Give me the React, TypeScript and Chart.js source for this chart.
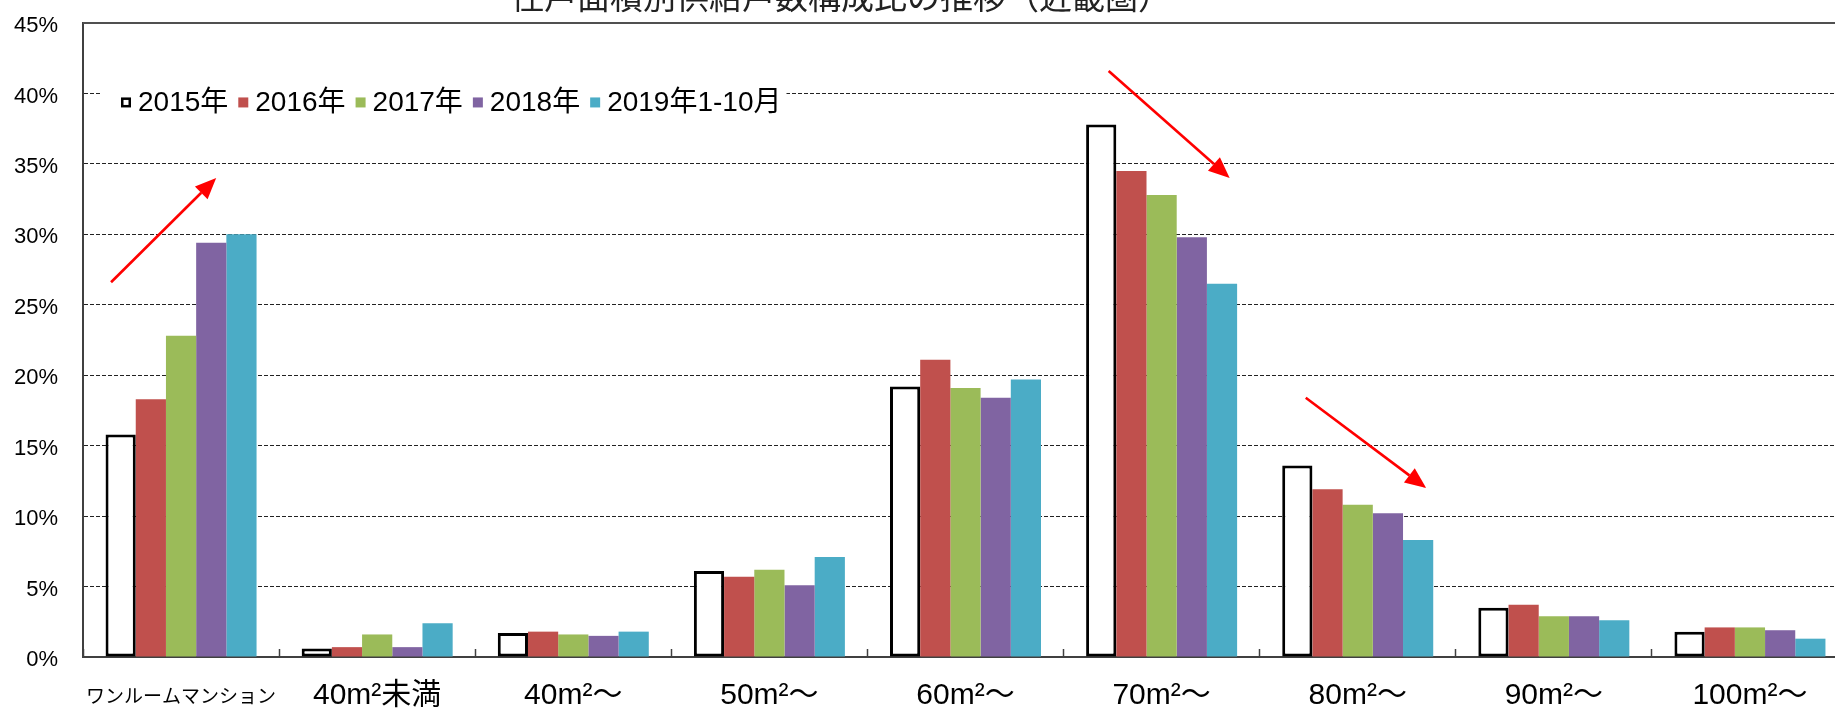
import React, { useEffect, useRef } from 'react';
import { Chart, registerables } from 'chart.js';

Chart.register(...registerables);

// ---------- data ----------
const categories = [
  'ワンルームマンション',
  '40m²未満',
  '40m²〜',
  '50m²〜',
  '60m²〜',
  '70m²〜',
  '80m²〜',
  '90m²〜',
  '100m²〜',
];
const seriesLabels = ['2015年', '2016年', '2017年', '2018年', '2019年1-10月'];
const values2015 = [15.8, 0.6, 1.7, 6.1, 19.2, 37.8, 13.6, 3.5, 1.8];
const values2016 = [18.3, 0.7, 1.8, 5.7, 21.1, 34.5, 11.9, 3.7, 2.1];
const values2017 = [22.8, 1.6, 1.6, 6.2, 19.1, 32.8, 10.8, 2.9, 2.1];
const values2018 = [29.4, 0.7, 1.5, 5.1, 18.4, 29.8, 10.2, 2.9, 1.9];
const values2019 = [30.0, 2.4, 1.8, 7.1, 19.7, 26.5, 8.3, 2.6, 1.3];
const yTickValues = [0, 5, 10, 15, 20, 25, 30, 35, 40, 45];
const titleText = '住戸面積別供給戸数構成比の推移（近畿圏）';

// red trend arrows, in data space: [category index, value %]
const arrowStarts = [
  [-0.357, 26.6],
  [4.73, 41.6],
  [5.735, 18.4],
];
const arrowEnds = [
  [0.179, 34.0],
  [5.347, 34.0],
  [6.349, 12.0],
];

// ---------- styles ----------
const seriesFill = ['#FFFFFF', '#C0504D', '#9BBB59', '#8064A2', '#4BACC6'];
const FONT = "'Liberation Sans', Arial, 'Noto Sans CJK JP', sans-serif";
const CJK = "'Noto Sans CJK JP', 'Noto Sans CJK SC', sans-serif";

const frameTopPlugin = {
  id: 'frameTop',
  beforeDatasetsDraw(chart: any) {
    const { ctx, chartArea } = chart;
    ctx.save();
    ctx.strokeStyle = '#505050';
    ctx.lineWidth = 2;
    ctx.beginPath();
    ctx.moveTo(chartArea.left, chartArea.top);
    ctx.lineTo(chartArea.right, chartArea.top);
    ctx.lineTo(chartArea.right, chartArea.bottom);
    ctx.stroke();
    ctx.restore();
  },
};

const arrowsPlugin = {
  id: 'trendArrows',
  afterDatasetsDraw(chart: any) {
    const { ctx, scales } = chart;
    ctx.save();
    ctx.strokeStyle = '#FF0000';
    ctx.fillStyle = '#FF0000';
    ctx.lineWidth = 2.6;
    arrowStarts.forEach((s, i) => {
      const e = arrowEnds[i];
      const x1 = scales.x.getPixelForValue(s[0]);
      const y1 = scales.y.getPixelForValue(s[1]);
      const x2 = scales.x.getPixelForValue(e[0]);
      const y2 = scales.y.getPixelForValue(e[1]);
      const ang = Math.atan2(y2 - y1, x2 - x1);
      const headLen = 21;
      const headHalf = 9;
      const bx = x2 - headLen * Math.cos(ang);
      const by = y2 - headLen * Math.sin(ang);
      ctx.beginPath();
      ctx.moveTo(x1, y1);
      ctx.lineTo(bx, by);
      ctx.stroke();
      ctx.beginPath();
      ctx.moveTo(x2, y2);
      ctx.lineTo(bx + headHalf * Math.sin(ang), by - headHalf * Math.cos(ang));
      ctx.lineTo(bx - headHalf * Math.sin(ang), by + headHalf * Math.cos(ang));
      ctx.closePath();
      ctx.fill();
    });
    ctx.restore();
  },
};

const insideLegendPlugin = {
  id: 'insideLegend',
  afterDatasetsDraw(chart: any) {
    const { ctx, chartArea, scales } = chart;
    const cy = scales.y.getPixelForValue(40) + 9;
    ctx.save();
    ctx.font = `28px ${FONT}`;
    ctx.textBaseline = 'middle';
    ctx.textAlign = 'left';
    const boxSize = 10;
    const boxGap = 7;
    const itemGap = 10;
    const datasets = chart.data.datasets;
    const widths = datasets.map((ds: any) => ctx.measureText(ds.label).width);
    const total =
      widths.reduce((a: number, w: number) => a + boxSize + boxGap + w + itemGap, 0) - itemGap;
    const startX = chartArea.left + 38;
    ctx.fillStyle = '#FFFFFF';
    ctx.fillRect(startX - 20, cy - 18, total + 25, 36);
    let x = startX;
    datasets.forEach((ds: any, i: number) => {
      const by = cy - boxSize / 2;
      if (i === 0) {
        ctx.fillStyle = '#FFFFFF';
        ctx.fillRect(x, by, boxSize, boxSize);
        ctx.strokeStyle = '#000000';
        ctx.lineWidth = 2.5;
        ctx.strokeRect(x + 1.25, by + 1.25, boxSize - 2.5, boxSize - 2.5);
      } else {
        ctx.fillStyle = ds.backgroundColor;
        ctx.fillRect(x, by, boxSize, boxSize);
      }
      ctx.fillStyle = '#000000';
      ctx.fillText(ds.label, x + boxSize + boxGap, cy + 1);
      x += boxSize + boxGap + widths[i] + itemGap;
    });
    ctx.restore();
  },
};

const titlePlugin = {
  id: 'cutTitle',
  afterDraw(chart: any) {
    const { ctx, chartArea } = chart;
    ctx.save();
    ctx.font = `33px ${CJK}`;
    ctx.fillStyle = '#222222';
    ctx.textAlign = 'center';
    ctx.textBaseline = 'alphabetic';
    ctx.fillText(titleText, chartArea.left + chartArea.width * 0.4295, 9);
    ctx.restore();
  },
};

export default function App() {
  const canvasRef = useRef<HTMLCanvasElement | null>(null);

  useEffect(() => {
    const canvas = canvasRef.current;
    if (!canvas) return;
    const seriesValues = [values2015, values2016, values2017, values2018, values2019];
    const chart = new Chart(canvas, {
      type: 'bar',
      data: {
        labels: categories,
        datasets: seriesLabels.map((label, i) => ({
          label,
          data: seriesValues[i],
          backgroundColor: seriesFill[i],
          borderColor: i === 0 ? '#000000' : seriesFill[i],
          borderWidth: i === 0 ? 3 : 0,
          borderSkipped: false,
          categoryPercentage: 0.77,
          barPercentage: 1.0,
        })),
      },
      options: {
        responsive: false,
        animation: false,
        devicePixelRatio: 1,
        layout: { padding: { top: 23, left: 0, right: 0, bottom: 0 } },
        plugins: {
          legend: { display: false },
          title: { display: false },
          tooltip: { enabled: false },
        },
        scales: {
          x: {
            offset: true,
            grid: {
              display: true,
              offset: true,
              drawOnChartArea: false,
              drawTicks: true,
              tickLength: -8,
              tickColor: '#404040',
              tickWidth: 1.5,
            },
            border: { display: true, color: '#404040', width: 2 },
            ticks: {
              autoSkip: false,
              maxRotation: 0,
              minRotation: 0,
              padding: 29,
              color: '#000000',
              font: (c: any) =>
                c.index === 0
                  ? { family: CJK, size: 19, lineHeight: '36px' }
                  : { family: FONT, size: 30, lineHeight: '36px' },
            },
            afterFit: (s: any) => {
              s.height = 53;
              s.paddingLeft = 0;
              s.paddingRight = 0;
            },
          },
          y: {
            min: 0,
            max: 45,
            afterBuildTicks: (s: any) => {
              s.ticks = yTickValues.map((v) => ({ value: v }));
            },
            ticks: {
              callback: (v: any) => `${v}%`,
              padding: 25,
              labelOffset: 3,
              color: '#000000',
              font: { family: FONT, size: 22 },
            },
            grid: {
              drawTicks: false,
              lineWidth: 1,
              color: (c: any) =>
                c.tick && (c.tick.value === 0 || c.tick.value === 45) ? 'rgba(0,0,0,0)' : '#222222',
            },
            border: { display: true, color: '#404040', width: 2, dash: [4, 2] },
            afterFit: (s: any) => {
              s.width = 83;
              s.paddingTop = 0;
              s.paddingBottom = 0;
            },
          },
        },
      },
      plugins: [frameTopPlugin, arrowsPlugin, insideLegendPlugin, titlePlugin],
    } as any);
    return () => {
      chart.destroy();
    };
  }, []);

  return (
    <div
      style={{
        position: 'absolute',
        left: 0,
        top: 0,
        width: 1835,
        height: 710,
        overflow: 'hidden',
        background: '#FFFFFF',
      }}
    >
      <canvas
        ref={canvasRef}
        width={1848}
        height={710}
        style={{ display: 'block', width: 1848, height: 710 }}
      />
    </div>
  );
}
